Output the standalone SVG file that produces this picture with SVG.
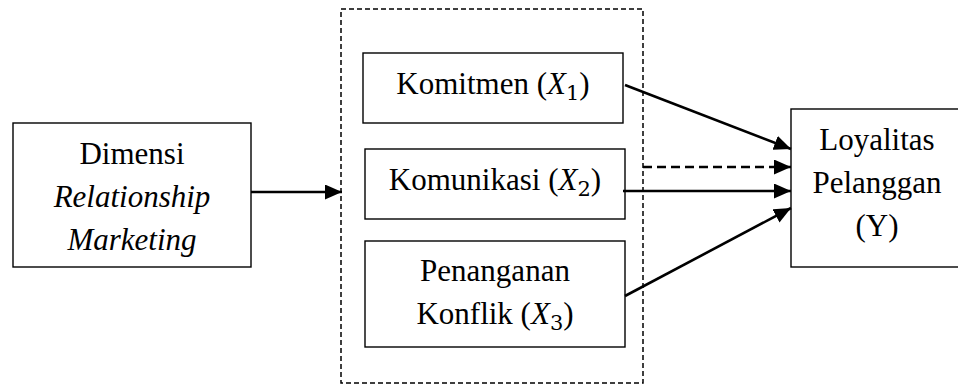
<svg xmlns="http://www.w3.org/2000/svg" width="958" height="385" viewBox="0 0 958 385">
  <style>
    .box { fill: #fff; stroke: #000; stroke-width: 1.4; }
    .group { fill: none; stroke: #000; stroke-width: 1.5; stroke-dasharray: 5 3; }
    .t { font-family: "Liberation Serif", "Times New Roman", serif; font-size: 31px; fill: #000; text-anchor: middle; }
    .it { font-style: italic; }
    .sub { font-size: 21px; font-family: "DejaVu Serif", "Liberation Serif", serif; }
    .edge { fill: none; stroke: #000; stroke-width: 2.6; }
    .dash { stroke-dasharray: 9 5; }
  </style>
  <defs>
    <marker id="arrow" markerUnits="userSpaceOnUse" markerWidth="17" markerHeight="15" refX="17" refY="7.5" orient="auto">
      <path d="M0,0 L17,7.5 L0,15 Z" fill="#000"/>
    </marker>
  </defs>

  <rect width="958" height="385" fill="#fff"/>

  <g id="dimensi">
    <rect class="box" x="13" y="123" width="238" height="144"/>
    <text class="t" x="132" y="164">Dimensi</text>
    <text class="t it" x="132" y="207">Relationship</text>
    <text class="t it" x="132" y="250">Marketing</text>
  </g>

  <g id="variabel">
    <rect class="group" x="341" y="9" width="302" height="374"/>
  </g>

  <g id="komitmen">
    <rect class="box" x="363" y="53" width="260" height="70"/>
    <text class="t" x="493" y="94">Komitmen (<tspan class="it">X</tspan><tspan class="sub" dy="6">1</tspan><tspan dy="-6">)</tspan></text>
  </g>

  <g id="komunikasi">
    <rect class="box" x="365" y="149" width="260" height="70"/>
    <text class="t" x="495" y="190">Komunikasi (<tspan class="it">X</tspan><tspan class="sub" dy="6">2</tspan><tspan dy="-6">)</tspan></text>
  </g>

  <g id="konflik">
    <rect class="box" x="365" y="241" width="260" height="106"/>
    <text class="t" x="495" y="281">Penanganan</text>
    <text class="t" x="495" y="324">Konflik (<tspan class="it">X</tspan><tspan class="sub" dy="6">3</tspan><tspan dy="-6">)</tspan></text>
  </g>

  <g id="loyalitas">
    <rect class="box" x="791" y="109" width="180" height="158"/>
    <text class="t" x="877" y="150">Loyalitas</text>
    <text class="t" x="877" y="193">Pelanggan</text>
    <text class="t" x="877" y="236">(Y)</text>
  </g>

  <g id="connectors">
    <line class="edge" x1="251" y1="192" x2="342" y2="192" marker-end="url(#arrow)"/>
    <line class="edge" x1="625" y1="85" x2="791" y2="149" marker-end="url(#arrow)"/>
    <line class="edge dash" x1="643" y1="167" x2="791" y2="167" marker-end="url(#arrow)"/>
    <line class="edge" x1="623" y1="191" x2="791" y2="191" marker-end="url(#arrow)"/>
    <line class="edge" x1="625" y1="296" x2="791" y2="208" marker-end="url(#arrow)"/>
  </g>
</svg>
